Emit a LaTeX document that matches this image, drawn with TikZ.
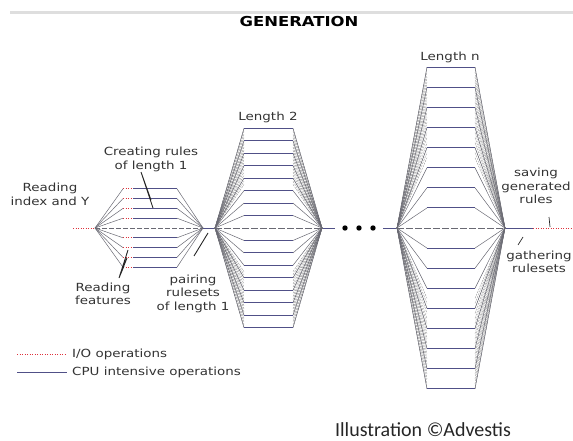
\documentclass[tikz,border=0pt]{standalone}
\usepackage{fontspec}
\newfontfamily\lblfont{DejaVu Sans}[FakeStretch=1.2]
\newfontfamily\capfont{Carlito}
\usepackage{tikz}
\usetikzlibrary{positioning}
\definecolor{colorCpu}{RGB}{80,80,135}
\definecolor{colorSpoke}{RGB}{105,105,115}
\definecolor{colorFan}{RGB}{140,140,140}
\definecolor{colorIO}{RGB}{222,50,60}
\definecolor{colorRule}{RGB}{222,222,222}
\tikzset{every node/.style={font=\lblfont\fontsize{11.2}{13.5}\selectfont, align=center, inner sep=0pt, text=black!80}}

\begin{document}
\begin{tikzpicture}[x=1pt, y=-1pt,
  cpu/.style={colorCpu, line width=1pt},
  spoke/.style={colorSpoke, line width=0.5pt},
  fan/.style={colorFan, line width=0.35pt, dash pattern=on 2pt off 1pt},
  io/.style={colorIO, line width=1pt, dash pattern=on 1pt off 1.5pt},
  pointer/.style={black!85, line width=0.9pt}]
\useasboundingbox (0,0) rectangle (573,441);
\coordinate (ruleA) at (10,12.5);
\coordinate (ruleB) at (573,12.5);
\draw[colorRule, line width=2.5pt] (ruleA) -- (ruleB);
\node[font=\lblfont\bfseries\fontsize{13.7}{15}\selectfont, text=black] (title) at (299,22) {GENERATION};
% main axis
\coordinate (in) at (73,228);
\coordinate (l1) at (95,228);
\coordinate (r1) at (203,228);
\coordinate (l2) at (215,228);
\coordinate (r2) at (322,228);
\coordinate (d1) at (335,228);
\coordinate (d2) at (383,228);
\coordinate (ln) at (397,228);
\coordinate (rn) at (505,228);
\coordinate (gath) at (533,228);
\coordinate (out) at (573,228);
\draw[io] (in) -- (l1);
\draw[cpu] (r1) -- (l2);
\draw[cpu] (r2) -- (d1);
\draw[cpu] (d2) -- (ln);
\draw[cpu] (rn) -- (gath);
\draw[io] (gath) -- (out);
\foreach \x [count=\n] in {345,359,373} {
  \fill[black] (\x,228) circle (2.7pt) coordinate (dot\n);
}
% length 1
\foreach \i in {-4,...,-1,1,2,...,4} {
  \draw[spoke] (l1) -- (123,{228+\i*9.8});
  \draw[io] (123,{228+\i*9.8}) -- (133,{228+\i*9.8});
  \draw[cpu] (133,{228+\i*9.8}) -- (177,{228+\i*9.8});
  \draw[spoke] (177,{228+\i*9.8}) -- (r1);
}
\draw[spoke, dash pattern=on 5pt off 2pt] (l1) -- (r1);
% length 2 and length n
\foreach \L/\R/\a/\b/\h in {l2/r2/244/293/12.45, ln/rn/427/475/20.1} {
  \foreach \k in {-32,...,-14,14,15,...,32} {
    \draw[fan] (\L) -- (\a,{228+\k*\h/4});
    \draw[fan] (\b,{228+\k*\h/4}) -- (\R);
  }
  \foreach \i in {-8,...,-1,1,2,...,8} {
    \draw[spoke] (\L) -- (\a,{228+\i*\h});
    \draw[cpu] (\a,{228+\i*\h}) -- (\b,{228+\i*\h});
    \draw[spoke] (\b,{228+\i*\h}) -- (\R);
  }
  \draw[spoke, line width=0.7pt, dash pattern=on 7pt off 2pt] (\L) -- (\R);
}
% labels
\node (readY) at (50,194.5) {Reading\\index and Y};
\node (create) at (151,159.5) {Creating rules\\of length 1};
\node (feat) at (103,294) {Reading\\features};
\node (pair) at (193,293.5) {pairing\\rulesets\\of length 1};
\node (len2) at (268,117) {Length 2};
\node (lenn) at (450,57) {Length n};
\node (save) at (536,186) {saving\\generated\\rules};
\node (gather) at (539,262) {gathering\\rulesets};
% pointers
\coordinate (cTip) at (141,172);
\coordinate (c1) at (147,190);
\coordinate (c2) at (151,200);
\coordinate (c3) at (153,208);
\draw[pointer] (cTip) -- (c1) (cTip) -- (c2) (cTip) -- (c3);
\coordinate (fTip) at (119,278);
\coordinate (f1) at (128,250);
\coordinate (f2) at (127,258);
\coordinate (f3) at (124,266);
\draw[pointer] (fTip) -- (f1) (fTip) -- (f2) (fTip) -- (f3);
\coordinate (pTip) at (194,256);
\coordinate (p1) at (208,233);
\draw[pointer] (pTip) -- (p1);
\coordinate (sTip) at (549,217);
\coordinate (s1) at (550,227);
\draw[pointer, line width=0.7pt] (sTip) -- (s1);
\coordinate (gTip) at (518,245);
\coordinate (g1) at (523,237);
\draw[pointer, line width=0.7pt] (gTip) -- (g1);
% legend
\coordinate (ioA) at (17,354);
\coordinate (ioB) at (67,354);
\draw[io] (ioA) -- (ioB);
\node[right=5pt of ioB] (ioText) {I/O operations};
\coordinate (cpuA) at (17,372);
\coordinate (cpuB) at (67,372);
\draw[cpu] (cpuA) -- (cpuB);
\node[right=5pt of cpuB] (cpuText) {CPU intensive operations};
\node[font=\capfont\fontsize{20}{22}\selectfont, anchor=base, text=black!85] (credit) at (423,436) {Illustration ©Advestis};
\end{tikzpicture}
\end{document}
